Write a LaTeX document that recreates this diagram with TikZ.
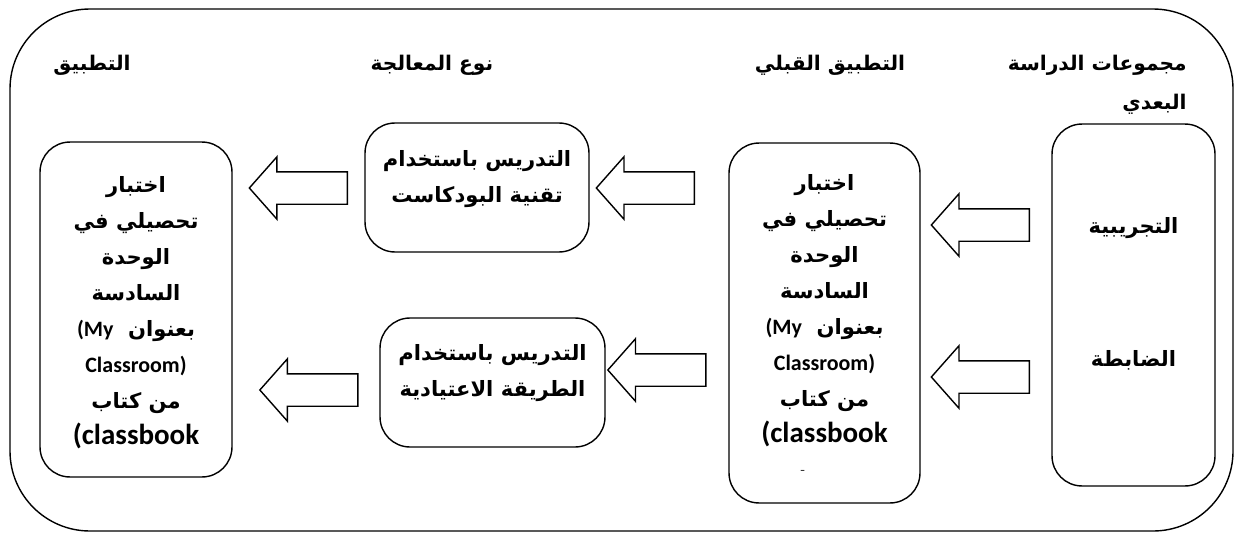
\documentclass[tikz,border=0pt]{standalone}
\usepackage{fontspec}
\usetikzlibrary{shapes.arrows}
\TeXXeTstate=1
\newfontfamily\arabicfont[Script=Arabic]{DejaVu Sans}
\newfontfamily\latinfont{Carlito}
\newcommand{\artext}[1]{\beginR #1\endR}
\newcommand{\smalllatin}{\latinfont\bfseries\fontsize{12.5}{12.5}\selectfont}
\newcommand{\testtext}{%
	\artext{اختبار}\\
	\artext{تحصيلي في}\\
	\artext{الوحدة}\\
	\artext{السادسة}\\
	\artext{بعنوان \ \beginL{\smalllatin(My}\endL}\\
	{\smalllatin Classroom)}\\
	\artext{من كتاب}\\
	{\latinfont\bfseries\fontsize{16.5}{16.5}\selectfont (classbook}%
}
\tikzset{
	roundbox/.style={draw, line width=0.8pt, rounded corners=0.6cm, inner sep=0pt},
	boxtext/.style={align=center, inner sep=0pt,
		font=\arabicfont\bfseries\fontsize{12}{20.5}\selectfont},
	header/.style={inner sep=0pt, font=\arabicfont\bfseries\fontsize{11.5}{14}\selectfont},
	hollowarrow/.style={draw, line width=0.8pt, single arrow, shape border rotate=180,
		single arrow head extend=0.3cm, single arrow tip angle=97,
		single arrow head indent=0pt, minimum height=1.96cm,
		inner xsep=0pt, inner ysep=0.31cm}
}

\begin{document}
\begin{tikzpicture}[x=0.02cm, y=-0.02cm]

\useasboundingbox (0, 0) rectangle (1236, 534);

% outer frame
\draw[line width=0.8pt, rounded corners=1.6cm] (10, 9) rectangle (1233, 531);

% column headers
\node[header, anchor=east] (hgroups) at (1187, 65) {\artext{مجموعات الدراسة}};
\node[header, anchor=east] (hpost) at (1187, 104) {\artext{البعدي}};
\node[header] (hpre) at (830, 65) {\artext{التطبيق القبلي}};
\node[header] (htreat) at (432, 65) {\artext{نوع المعالجة}};
\node[header] (happly) at (92, 65) {\artext{التطبيق}};

% study groups
\node[roundbox, minimum width=3.26cm, minimum height=7.24cm] (groups) at (1133.5, 305) {};
\node[boxtext] (exp) at (1133.5, 228) {\artext{التجريبية}};
\node[boxtext] (ctl) at (1133.5, 360) {\artext{الضابطة}};

% pre test
\node[roundbox, minimum width=3.82cm, minimum height=7.2cm] (pre) at (824.5, 323) {};
\node[boxtext] (pretext) at (824.5, 311) {\testtext};
\node[inner sep=0pt, font=\fontsize{7}{7}\selectfont] (predash) at (803, 472) {-};

% treatment
\node[roundbox, minimum width=4.48cm, minimum height=2.58cm] (podcast) at (477, 187.5) {};
\node[boxtext] (podtext) at (477, 179.5) {\artext{التدريس باستخدام}\\ \artext{تقنية البودكاست}};
\node[roundbox, minimum width=4.5cm, minimum height=2.58cm] (usual) at (492.5, 382.5) {};
\node[boxtext] (usualtext) at (492.5, 373.5) {\artext{التدريس باستخدام}\\ \artext{الطريقة الاعتيادية}};

% post test
\node[roundbox, minimum width=3.84cm, minimum height=6.7cm] (post) at (136, 309.5) {};
\node[boxtext] (posttext) at (136, 313) {\testtext};

% arrows
\node[hollowarrow] (a1) at (987.5, 225) {};
\node[hollowarrow] (a2) at (987.5, 377) {};
\node[hollowarrow] (a3) at (652.5, 188) {};
\node[hollowarrow] (a4) at (664, 370) {};
\node[hollowarrow] (a5) at (305.5, 188) {};
\node[hollowarrow] (a6) at (316, 390) {};

\end{tikzpicture}
\end{document}
